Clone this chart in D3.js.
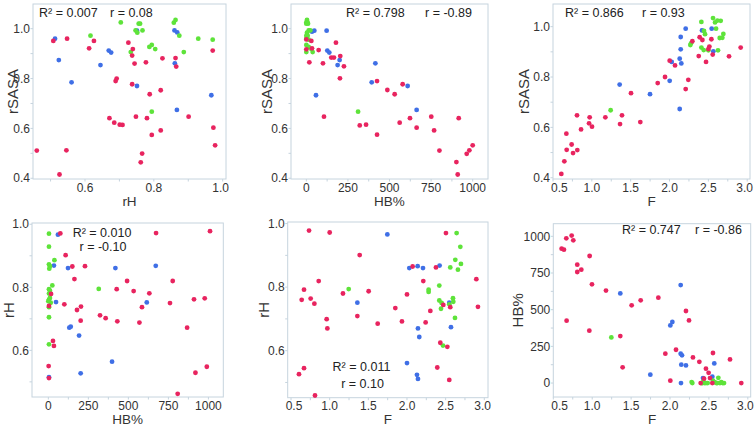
<!DOCTYPE html>
<html><head><meta charset="utf-8">
<script src="https://cdn.jsdelivr.net/npm/d3@7/dist/d3.min.js"></script>
<style>
html,body{margin:0;padding:0;background:#fff;}
svg{display:block;font-family:"Liberation Sans",Arial,Helvetica,sans-serif;}
</style></head>
<body><svg id="c" width="756" height="427"></svg>
<script>
// ---- data: [x, y, group]  (r = red, b = blue, g = green)
const rH_rSASA = [
 [0.513,0.960,'b'],[0.524,0.874,'b'],[0.561,0.785,'b'],[0.645,0.854,'b'],[0.669,0.912,'b'],[0.676,0.904,'b'],[0.751,0.992,'b'],[0.751,0.770,'b'],[0.860,0.993,'b'],[0.868,0.985,'b'],[0.861,0.861,'b'],[0.867,0.674,'b'],[0.967,0.733,'b'],
 [0.616,0.972,'g'],[0.704,1.025,'g'],[0.733,0.906,'g'],[0.747,0.993,'g'],[0.752,0.984,'g'],[0.756,1.020,'g'],[0.760,1.020,'g'],[0.767,0.993,'g'],[0.787,0.927,'g'],[0.794,0.935,'g'],[0.804,0.918,'g'],[0.794,0.667,'g'],[0.858,1.024,'g'],[0.863,1.035,'g'],[0.874,0.972,'g'],[0.887,0.906,'g'],[0.929,0.960,'g'],[0.971,0.956,'g'],
 [0.460,0.511,'r'],[0.508,0.951,'r'],[0.526,0.415,'r'],[0.546,0.512,'r'],[0.548,0.960,'r'],[0.612,0.921,'r'],[0.626,0.951,'r'],[0.671,0.641,'r'],[0.685,0.623,'r'],[0.689,0.790,'r'],[0.692,0.800,'r'],[0.701,0.615,'r'],[0.709,0.614,'r'],[0.726,0.944,'r'],[0.737,0.892,'r'],[0.739,0.918,'r'],[0.737,0.777,'r'],[0.744,0.860,'r'],[0.748,0.647,'r'],[0.762,0.464,'r'],[0.766,0.499,'r'],[0.777,0.865,'r'],[0.780,0.641,'r'],[0.788,0.737,'r'],[0.794,0.574,'r'],[0.820,0.592,'r'],[0.820,0.753,'r'],[0.825,0.881,'r'],[0.863,0.882,'r'],[0.865,0.848,'r'],[0.901,0.647,'r'],[0.971,0.912,'r'],[0.973,0.603,'r'],[0.978,0.532,'r']
];
const HB_rSASA = [
 [34,0.988,'b'],[48,0.992,'b'],[122,0.992,'b'],[126,0.912,'b'],[138,0.904,'b'],[200,0.874,'b'],[188,0.854,'b'],[58,0.733,'b'],[415,0.861,'b'],[393,0.785,'b'],[609,0.770,'b'],[663,0.674,'b'],[4,0.960,'b'],
 [4,1.035,'g'],[0,1.025,'g'],[8,1.024,'g'],[0,1.020,'g'],[10,1.020,'g'],[14,0.993,'g'],[24,0.993,'g'],[4,0.984,'g'],[0,0.972,'g'],[8,0.972,'g'],[0,0.960,'g'],[14,0.956,'g'],[0,0.935,'g'],[14,0.927,'g'],[30,0.918,'g'],[0,0.906,'g'],[38,0.906,'g'],[311,0.667,'g'],
 [0,0.957,'r'],[0,0.917,'r'],[30,0.951,'r'],[34,0.921,'r'],[18,0.865,'r'],[74,0.914,'r'],[100,0.861,'r'],[106,0.647,'r'],[178,0.944,'r'],[150,0.884,'r'],[166,0.884,'r'],[204,0.890,'r'],[226,0.849,'r'],[202,0.801,'r'],[425,0.790,'r'],[321,0.612,'r'],[359,0.615,'r'],[425,0.575,'r'],[487,0.754,'r'],[531,0.737,'r'],[579,0.777,'r'],[561,0.623,'r'],[623,0.641,'r'],[663,0.603,'r'],[751,0.647,'r'],[768,0.592,'r'],[800,0.511,'r'],[916,0.641,'r'],[902,0.465,'r'],[910,0.415,'r'],[964,0.498,'r'],[980,0.512,'r'],[1000,0.532,'r']
];
const F_rSASA = [
 [2.208,0.992,'b'],[2.144,0.959,'b'],[2.144,0.910,'b'],[2.131,0.873,'b'],[2.152,0.854,'b'],[2.028,0.860,'b'],[2.002,0.785,'b'],[2.131,0.673,'b'],[1.749,0.732,'b'],[1.358,0.770,'b'],[2.418,0.985,'b'],[2.543,0.992,'b'],[2.564,0.902,'b'],
 [1.242,0.668,'g'],[2.268,0.927,'g'],[2.277,0.934,'g'],[2.410,1.019,'g'],[2.410,0.917,'g'],[2.440,0.907,'g'],[2.444,0.983,'g'],[2.457,0.970,'g'],[2.560,1.034,'g'],[2.586,1.017,'g'],[2.599,0.992,'g'],[2.616,1.024,'g'],[2.659,1.023,'g'],[2.646,0.955,'g'],[2.680,0.956,'g'],[2.693,0.971,'g'],[2.624,0.906,'g'],[2.500,0.906,'g'],
 [0.607,0.415,'r'],[0.646,0.465,'r'],[0.672,0.575,'r'],[0.676,0.511,'r'],[0.740,0.532,'r'],[0.758,0.498,'r'],[0.809,0.648,'r'],[0.813,0.510,'r'],[0.861,0.592,'r'],[0.964,0.616,'r'],[0.972,0.640,'r'],[1.002,0.603,'r'],[1.174,0.640,'r'],[1.363,0.613,'r'],[1.388,0.648,'r'],[1.504,0.736,'r'],[1.624,0.621,'r'],[1.848,0.776,'r'],[1.942,0.800,'r'],[2.002,0.865,'r'],[2.071,0.846,'r'],[2.208,0.752,'r'],[2.242,0.789,'r'],[2.294,0.942,'r'],[2.376,0.883,'r'],[2.388,0.958,'r'],[2.423,0.947,'r'],[2.470,0.860,'r'],[2.500,0.911,'r'],[2.513,0.921,'r'],[2.539,0.950,'r'],[2.556,0.889,'r'],[2.766,0.882,'r'],[2.916,0.917,'r']
];
const HB_rH = [
 [60,0.967,'b'],[35,0.869,'b'],[123,0.861,'b'],[419,0.861,'b'],[671,0.868,'b'],[48,0.753,'b'],[615,0.752,'b'],[131,0.672,'b'],[140,0.675,'b'],[192,0.647,'b'],[398,0.564,'b'],[202,0.527,'b'],[4,0.515,'b'],
 [4,0.970,'g'],[4,0.929,'g'],[4,0.873,'g'],[10,0.867,'g'],[6,0.859,'g'],[38,0.886,'g'],[25,0.806,'g'],[4,0.794,'g'],[10,0.789,'g'],[4,0.780,'g'],[10,0.766,'g'],[4,0.761,'g'],[15,0.751,'g'],[0,0.756,'g'],[4,0.737,'g'],[4,0.705,'g'],[4,0.619,'g'],[315,0.795,'g'],
 [75,0.971,'r'],[108,0.902,'r'],[150,0.866,'r'],[229,0.867,'r'],[163,0.826,'r'],[17,0.779,'r'],[4,0.741,'r'],[100,0.746,'r'],[204,0.739,'r'],[179,0.728,'r'],[202,0.694,'r'],[29,0.630,'r'],[35,0.614,'r'],[2,0.550,'r'],[4,0.512,'r'],[323,0.711,'r'],[358,0.702,'r'],[427,0.794,'r'],[431,0.692,'r'],[492,0.820,'r'],[533,0.788,'r'],[569,0.688,'r'],[631,0.781,'r'],[585,0.737,'r'],[673,0.972,'r'],[760,0.750,'r'],[777,0.820,'r'],[867,0.672,'r'],[910,0.762,'r'],[977,0.765,'r'],[919,0.529,'r'],[990,0.548,'r'],[808,0.462,'r'],[1010,0.978,'r']
];
const F_rH = [
 [1.746,0.966,'b'],[1.358,0.751,'b'],[2.030,0.860,'b'],[2.138,0.866,'b'],[2.207,0.860,'b'],[2.142,0.670,'b'],[2.159,0.643,'b'],[2.000,0.561,'b'],[2.129,0.524,'b'],[2.142,0.511,'b'],[2.422,0.868,'b'],[2.547,0.751,'b'],[2.569,0.674,'b'],
 [1.246,0.794,'g'],[2.280,0.785,'g'],[2.280,0.792,'g'],[2.418,0.805,'g'],[2.418,0.758,'g'],[2.448,0.750,'g'],[2.440,0.732,'g'],[2.466,0.616,'g'],[2.560,0.862,'g'],[2.547,0.746,'g'],[2.595,0.765,'g'],[2.599,0.754,'g'],[2.625,0.886,'g'],[2.621,0.703,'g'],[2.642,0.970,'g'],[2.659,0.855,'g'],[2.690,0.927,'g'],[2.698,0.873,'g'],
 [0.603,0.526,'r'],[0.638,0.760,'r'],[0.668,0.545,'r'],[0.668,0.792,'r'],[0.733,0.978,'r'],[0.754,0.764,'r'],[0.802,0.748,'r'],[0.810,0.459,'r'],[0.858,0.819,'r'],[0.961,0.699,'r'],[0.970,0.670,'r'],[1.000,0.972,'r'],[1.172,0.780,'r'],[1.358,0.709,'r'],[1.388,0.901,'r'],[1.504,0.787,'r'],[1.621,0.685,'r'],[1.849,0.734,'r'],[1.935,0.692,'r'],[2.000,0.777,'r'],[2.073,0.865,'r'],[2.211,0.819,'r'],[2.241,0.689,'r'],[2.302,0.725,'r'],[2.375,0.862,'r'],[2.392,0.547,'r'],[2.431,0.625,'r'],[2.470,0.744,'r'],[2.504,0.970,'r'],[2.522,0.612,'r'],[2.547,0.508,'r'],[2.560,0.737,'r'],[2.897,0.825,'r'],[2.918,0.738,'r']
];
const F_HB = [
 [1.361,611,'b'],[1.747,57,'b'],[2.004,393,'b'],[2.030,416,'b'],[2.137,668,'b'],[2.137,200,'b'],[2.154,189,'b'],[2.145,125,'b'],[2.205,120,'b'],[2.141,0,'b'],[2.424,34,'b'],[2.544,43,'b'],[2.569,134,'b'],
 [1.246,311,'g'],[2.278,7,'g'],[2.287,0,'g'],[2.407,0,'g'],[2.428,11,'g'],[2.441,0,'g'],[2.462,0,'g'],[2.484,0,'g'],[2.552,16,'g'],[2.574,7,'g'],[2.595,0,'g'],[2.608,0,'g'],[2.621,36,'g'],[2.642,0,'g'],[2.659,7,'g'],[2.677,0,'g'],[2.694,0,'g'],[2.415,0,'g'],
 [0.607,916,'r'],[0.637,909,'r'],[0.667,986,'r'],[0.671,425,'r'],[0.736,1005,'r'],[0.757,973,'r'],[0.808,807,'r'],[0.808,757,'r'],[0.860,773,'r'],[0.967,866,'r'],[0.963,357,'r'],[0.997,673,'r'],[1.177,630,'r'],[1.361,320,'r'],[1.391,107,'r'],[1.507,530,'r'],[1.623,564,'r'],[1.850,582,'r'],[1.940,200,'r'],[2.004,16,'r'],[2.077,227,'r'],[2.205,491,'r'],[2.244,427,'r'],[2.295,175,'r'],[2.377,145,'r'],[2.394,0,'r'],[2.437,30,'r'],[2.462,98,'r'],[2.496,70,'r'],[2.514,34,'r'],[2.544,0,'r'],[2.552,205,'r'],[2.771,161,'r'],[2.916,0,'r']
];
const r2Values = ["0.007","0.798","0.866","0.010","0.011","0.747"];
const rValues  = ["0.08","-0.89","0.93","-0.10","0.10","-0.86"];
const xTitles = ["rH","HB%","F","HB%","F","F"];
const yTitles = ["rSASA","rSASA","rSASA","rH","rH","HB%"];
const rHTicks = [0.6,0.8,1.0];
const rSASATicks = [0.4,0.6,0.8,1.0];
const HBTicks = [0,250,500,750,1000];
const FTicks = [0.5,1.0,1.5,2.0,2.5,3.0];

// ---- layout
const colors = {r:"#e8245f", b:"#3f6fe6", g:"#5ee33a"};
const frameColor = "#c6d4de";
const panels = [
 {data:rH_rSASA, f:[33,4,226,179], xd:[0.449,1.0096], yd:[1.099,0.397], xt:rHTicks, yt:rSASATicks, xm:0.1, ym:0.1, xf:".1f", yf:".1f", ytx:12.5,
  ann:[{t:"R² = "+r2Values[0],x:39,y:16.5,a:"start"},{t:"r = "+rValues[0],x:110,y:16.5,a:"start"}]},
 {data:HB_rSASA, f:[291,4,488,179], xd:[-92.2,1092], yd:[1.099,0.397], xt:HBTicks, yt:rSASATicks, xm:125, ym:0.1, xf:"d", yf:".1f", ytx:266.5,
  ann:[{t:"R² = "+r2Values[1],x:346,y:16.5,a:"start"},{t:"r = "+rValues[1],x:425,y:16.5,a:"start"}]},
 {data:F_rSASA, f:[553,4,750,179], xd:[0.5,3.036], yd:[1.090,0.395], xt:FTicks, yt:rSASATicks, xm:0.25, ym:0.1, xf:".1f", yf:".1f", ytx:524,
  ann:[{t:"R² = "+r2Values[2],x:565,y:16.5,a:"start"},{t:"r = "+rValues[2],x:642,y:16.5,a:"start"}]},
 {data:HB_rH, f:[32,223,223.3,397], xd:[-102,1093], yd:[1.004,0.452], xt:HBTicks, yt:rHTicks, xm:125, ym:0.1, xf:"d", yf:".1f", ytx:8.5,
  ann:[{t:"R² = "+r2Values[3],x:102,y:237,a:"middle"},{t:"r = "+rValues[3],x:103,y:251,a:"middle"}]},
 {data:F_rH, f:[287.7,222,488,397.7], xd:[0.457,3.048], yd:[1.005,0.452], xt:FTicks, yt:rHTicks, xm:0.25, ym:0.1, xf:".1f", yf:".1f", ytx:263.5,
  ann:[{t:"R² = "+r2Values[4],x:361.5,y:370.5,a:"middle"},{t:"r = "+rValues[4],x:362.5,y:388,a:"middle"}]},
 {data:F_HB, f:[553.3,223.7,750.7,397], xd:[0.5,3.037], yd:[1086,-95], xt:FTicks, yt:HBTicks, xm:0.25, ym:125, xf:".1f", yf:"d", ytx:518,
  ann:[{t:"R² = "+r2Values[5],x:622,y:234,a:"start"},{t:"r = "+rValues[5],x:695,y:234,a:"start"}]}
];

const svg = d3.select("#c");
panels.forEach((p,i)=>{
  const [x0,y0,x1,y1] = p.f;
  const x = d3.scaleLinear().domain(p.xd).range([x0,x1]);
  const y = d3.scaleLinear().domain(p.yd).range([y0,y1]);
  const g = svg.append("g");
  const inX = v => v>=Math.min(...p.xd)-1e-9 && v<=Math.max(...p.xd)+1e-9;
  const inY = v => v>=Math.min(...p.yd)-1e-9 && v<=Math.max(...p.yd)+1e-9;
  const xm = d3.range(Math.ceil(Math.min(...p.xd)/p.xm)*p.xm, Math.max(...p.xd)+1e-9, p.xm).filter(inX);
  const ym = d3.range(Math.ceil(Math.min(...p.yd)/p.ym)*p.ym, Math.max(...p.yd)+1e-9, p.ym).filter(inY);
  g.selectAll(".xm").data(xm).join("line").attr("x1",d=>x(d)).attr("x2",d=>x(d)).attr("y1",y1).attr("y2",y1+2.5).attr("stroke",frameColor);
  g.selectAll(".ym").data(ym).join("line").attr("y1",d=>y(d)).attr("y2",d=>y(d)).attr("x1",x0).attr("x2",x0-2.5).attr("stroke",frameColor);
  g.append("rect").attr("x",x0).attr("y",y0).attr("width",x1-x0).attr("height",y1-y0)
    .attr("fill","none").attr("stroke",frameColor).attr("stroke-width",1);
  const xl = g.selectAll(".xl").data(p.xt).join("text").attr("class","xl")
    .attr("x",d=>x(d)).attr("y",y1+12.5).attr("text-anchor","middle")
    .attr("font-size",12).attr("fill","#333").text(d=>d3.format(p.xf)(d));
  xl.each(function(d){
    const w = this.getComputedTextLength(); let cx = x(d);
    if (cx - w/2 < x0 - 2) cx = x0 - 2 + w/2;
    if (cx + w/2 > x1 + 3) cx = x1 + 3 - w/2;
    d3.select(this).attr("x",cx);
  });
  g.selectAll(".yl").data(p.yt).join("text").attr("class","yl")
    .attr("x",x0-3).attr("y",d=>y(d)).attr("dy","0.35em").attr("text-anchor","end")
    .attr("font-size",12).attr("fill","#333").text(d=>d3.format(p.yf)(d));
  g.append("text").attr("x",(x0+x1)/2).attr("y",Math.min(y1+27,424)).attr("text-anchor","middle")
    .attr("font-size",13.5).attr("fill","#333").text(xTitles[i]);
  g.append("text").attr("transform",`translate(${p.ytx},${(y0+y1)/2}) rotate(-90)`)
    .attr("dy","0.35em").attr("text-anchor","middle")
    .attr("font-size",15).attr("fill","#333").text(yTitles[i]);
  g.selectAll("circle").data(p.data).join("circle")
    .attr("cx",d=>x(d[0])).attr("cy",d=>y(d[1])).attr("r",2.4)
    .attr("fill",d=>colors[d[2]]);
  g.selectAll(".ann").data(p.ann).join("text").attr("class","ann")
    .attr("x",d=>d.x).attr("y",d=>d.y).attr("text-anchor",d=>d.a)
    .attr("font-size",12.5).attr("fill","#222").text(d=>d.t);
});
</script></body></html>
